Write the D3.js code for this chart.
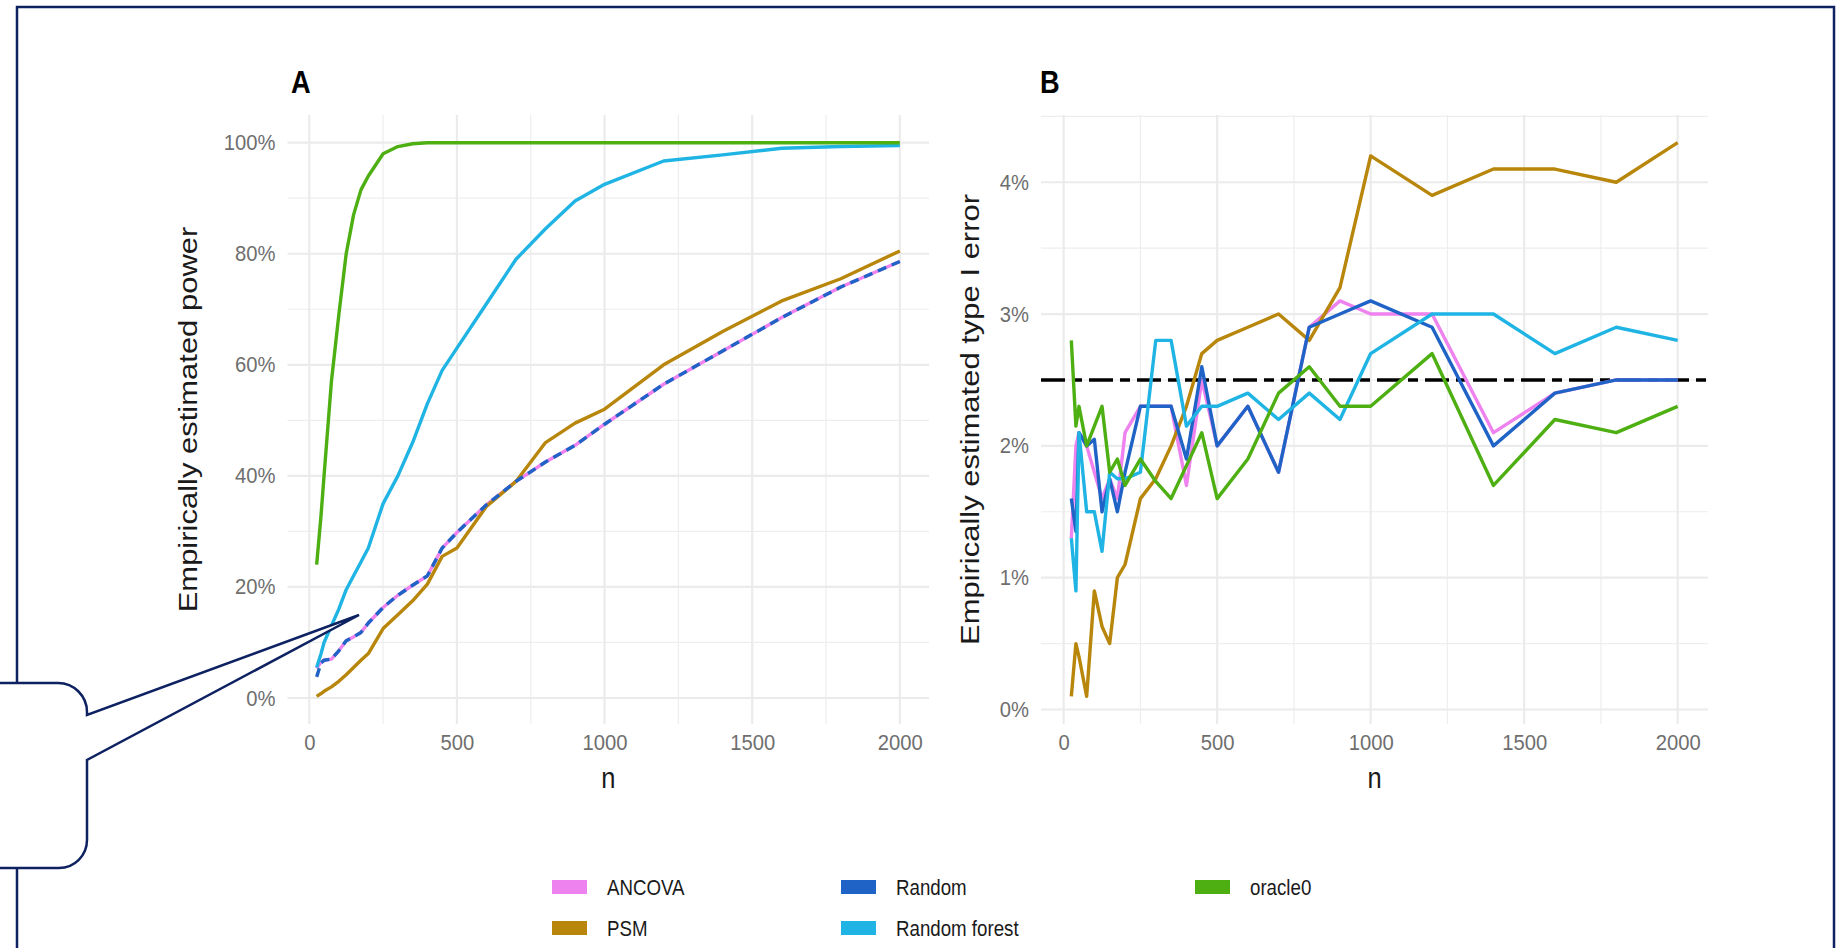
<!DOCTYPE html>
<html>
<head>
<meta charset="utf-8">
<script src="https://cdn.jsdelivr.net/npm/d3@7"></script>
<style>
	body { margin: 0; background: #fff; }
	svg text { font-family: "Liberation Sans", Arial, Helvetica, sans-serif; }
</style>
</head>
<body>
<svg id="chart" width="1842" height="948"></svg>
<script>
// sample sizes of the simulation
var nValues = [25, 40, 50, 75, 100, 125, 150, 175, 200, 250, 300, 350, 400, 450, 500, 600, 700, 800, 900, 1000, 1200, 1400, 1600, 1800, 2000];

var methods = ['ANCOVA', 'PSM', 'Random', 'Random forest', 'oracle0'];
var methodColors = ['#ee82ee', '#b8860b', '#1f63c6', '#1fb4e4', '#4daf12'];

// panel A: empirically estimated power (%)
var powerANCOVA = [5.3, 6.5, 6.8, 7, 8.5, 10.3, 11, 11.8, 13.5, 16.3, 18.5, 20.3, 22, 27, 29.8, 34.8, 39, 42.5, 45.5, 49.3, 56.5, 62.5, 68.5, 74, 78.6];
var powerPSM = [0.3, 0.8, 1.2, 2, 3, 4.2, 5.5, 6.8, 8, 12.5, 15, 17.5, 20.5, 25.5, 27, 34.5, 39, 46, 49.5, 52, 60, 66, 71.5, 75.5, 80.5];
var powerRandom = [3.8, 6.3, 6.8, 7, 8.5, 10.3, 11, 11.8, 13.5, 16.3, 18.5, 20.3, 22, 27, 29.8, 34.8, 39, 42.5, 45.5, 49.3, 56.5, 62.5, 68.5, 74, 78.6];
var powerRF = [5.5, 8, 10, 13, 16, 19.5, 22, 24.5, 27, 35, 40, 46, 53, 59, 63, 71, 79, 84.5, 89.5, 92.5, 96.7, 97.8, 99, 99.3, 99.5];
var powerOracle = [24, 33, 40, 57, 69, 80, 87, 91.5, 94, 98, 99.3, 99.8, 100, 100, 100, 100, 100, 100, 100, 100, 100, 100, 100, 100, 100];

// panel B: empirically estimated type I error (%)
var errANCOVA = [1.3, 2.0, 2.1, 2.0, 1.8, 1.6, 1.75, 1.6, 2.1, 2.3, 2.3, 2.3, 1.7, 2.5, 2.0, 2.3, 1.8, 2.9, 3.1, 3.0, 3.0, 2.1, 2.4, 2.5, 2.5];
var errPSM = [0.1, 0.5, 0.4, 0.1, 0.9, 0.63, 0.5, 1.0, 1.1, 1.6, 1.75, 2.0, 2.3, 2.7, 2.8, 2.9, 3.0, 2.8, 3.2, 4.2, 3.9, 4.1, 4.1, 4.0, 4.3];
var errRandom = [1.6, 1.35, 2.1, 2.0, 2.05, 1.5, 1.75, 1.5, 1.8, 2.3, 2.3, 2.3, 1.9, 2.6, 2.0, 2.3, 1.8, 2.9, 3.0, 3.1, 2.9, 2.0, 2.4, 2.5, 2.5];
var errRF = [1.3, 0.9, 2.1, 1.5, 1.5, 1.2, 1.8, 1.75, 1.75, 1.8, 2.8, 2.8, 2.15, 2.3, 2.3, 2.4, 2.2, 2.4, 2.2, 2.7, 3.0, 3.0, 2.7, 2.9, 2.8];
var errOracle = [2.8, 2.15, 2.3, 2.0, 2.15, 2.3, 1.8, 1.9, 1.7, 1.9, 1.73, 1.6, 1.85, 2.1, 1.6, 1.9, 2.4, 2.6, 2.3, 2.3, 2.7, 1.7, 2.2, 2.1, 2.3];

var alphaLevel = 2.5;

var xTicks = [0, 500, 1000, 1500, 2000];
var xMinorTicks = [250, 750, 1250, 1750];
var powerTicks = [0, 20, 40, 60, 80, 100];
var powerMinorTicks = [10, 30, 50, 70, 90];
var errTicks = [0, 1, 2, 3, 4];
var errMinorTicks = [0.5, 1.5, 2.5, 3.5, 4.5];

var svg = d3.select('#chart');
var sx = 0.85; // the text in the figure is a bit narrower than it is tall
var navy = '#0e2262';

function expand(ext) {
	var pad = (ext[1] - ext[0]) * 0.05;
	return [ext[0] - pad, ext[1] + pad];
}

function drawPanel(p) {
	var g = svg.append('g');
	var x = d3.scaleLinear().domain(expand(d3.extent(nValues))).range([p.left, p.right]);
	var allY = d3.merge(p.series);
	var y = d3.scaleLinear().domain(expand(d3.extent(allY))).range([p.bottom, p.top]);

	// grid
	g.selectAll('.xminor').data(xMinorTicks).enter().append('line')
		.attr('x1', function (d) { return x(d); })
		.attr('x2', function (d) { return x(d); })
		.attr('y1', p.top).attr('y2', p.bottom)
		.attr('stroke', '#eeeeee').attr('stroke-width', 1.2);
	g.selectAll('.yminor').data(p.minorTicks).enter().append('line')
		.attr('y1', function (d) { return y(d); })
		.attr('y2', function (d) { return y(d); })
		.attr('x1', p.left).attr('x2', p.right)
		.attr('stroke', '#eeeeee').attr('stroke-width', 1.2);
	g.selectAll('.xmajor').data(xTicks).enter().append('line')
		.attr('x1', function (d) { return x(d); })
		.attr('x2', function (d) { return x(d); })
		.attr('y1', p.top).attr('y2', p.bottom)
		.attr('stroke', '#ebebeb').attr('stroke-width', 2.2);
	g.selectAll('.ymajor').data(p.ticks).enter().append('line')
		.attr('y1', function (d) { return y(d); })
		.attr('y2', function (d) { return y(d); })
		.attr('x1', p.left).attr('x2', p.right)
		.attr('stroke', '#ebebeb').attr('stroke-width', 2.2);

	// axes, text only
	var yAxis = g.append('g')
		.attr('transform', 'translate(' + p.left + ',0)')
		.call(d3.axisLeft(y).tickValues(p.ticks).tickSize(0).tickPadding(13)
			.tickFormat(function (d) { return d + '%'; }));
	var xAxis = g.append('g')
		.attr('transform', 'translate(0,' + p.bottom + ')')
		.call(d3.axisBottom(x).tickValues(xTicks).tickSize(0).tickPadding(10)
			.tickFormat(d3.format('d')));
	[yAxis, xAxis].forEach(function (a) {
		a.select('.domain').remove();
		a.selectAll('text')
			.attr('fill', '#6e6e6e')
			.style('font-size', '22px')
			.attr('transform', 'scale(0.92,1)');
	});

	// reference line
	if (p.hline !== undefined) {
		g.append('line')
			.attr('x1', p.left).attr('x2', p.right)
			.attr('y1', y(p.hline)).attr('y2', y(p.hline))
			.attr('stroke', '#000').attr('stroke-width', 3.6)
			.attr('stroke-dasharray', '24,7,10,7');
	}

	var line = d3.line()
		.x(function (d) { return x(d[0]); })
		.y(function (d) { return y(d[1]); });

	p.series.forEach(function (vals, i) {
		g.append('path')
			.attr('d', line(nValues.map(function (n, j) { return [n, vals[j]]; })))
			.attr('fill', 'none')
			.attr('stroke', methodColors[i])
			.attr('stroke-width', 3.4)
			.attr('stroke-linejoin', 'round')
			.attr('stroke-dasharray', p.dashed && p.dashed[i] ? '9,6' : null);
	});

	// titles
	g.append('text')
		.attr('transform', 'translate(' + p.tagX + ',93) scale(' + sx + ',1)')
		.style('font-size', '32px').style('font-weight', 'bold')
		.text(p.tag);
	g.append('text')
		.attr('transform', 'translate(' + (p.left + p.right) / 2 + ',788) scale(' + sx + ',1)')
		.attr('text-anchor', 'middle')
		.style('font-size', '30px').attr('fill', '#1a1a1a')
		.text('n');
	g.append('text')
		.attr('transform', 'translate(' + p.titleX + ',' + (p.top + p.bottom) / 2 + ') scale(' + sx + ',1) rotate(-90)')
		.attr('text-anchor', 'middle')
		.attr('dy', '0.35em')
		.style('font-size', '31px').attr('fill', '#1a1a1a')
		.text(p.yTitle);
}

drawPanel({
	left: 287.5, right: 929, top: 115, bottom: 724,
	series: [powerANCOVA, powerPSM, powerRandom, powerRF, powerOracle],
	dashed: [false, false, true, false, false],
	ticks: powerTicks, minorTicks: powerMinorTicks,
	tag: 'A', tagX: 291, titleX: 188,
	yTitle: 'Empirically estimated power'
});

drawPanel({
	left: 1041, right: 1708, top: 115, bottom: 724,
	series: [errANCOVA, errPSM, errRandom, errRF, errOracle],
	ticks: errTicks, minorTicks: errMinorTicks,
	hline: alphaLevel,
	tag: 'B', tagX: 1040, titleX: 970,
	yTitle: 'Empirically estimated type I error'
});

// legend: 3 columns, filled by column
var legendCols = [552, 841, 1195];
var legendRows = [887, 928];
var legend = svg.append('g');
methods.forEach(function (m, i) {
	var cx = legendCols[Math.floor(i / 2)];
	var cy = legendRows[i % 2];
	legend.append('rect')
		.attr('x', cx).attr('y', cy - 7)
		.attr('width', 35).attr('height', 14)
		.attr('fill', methodColors[i]);
	legend.append('text')
		.attr('transform', 'translate(' + (cx + 55) + ',' + cy + ') scale(' + sx + ',1)')
		.attr('dy', '0.35em')
		.style('font-size', '22px').attr('fill', '#1a1a1a')
		.text(m);
});

// frame round the figure and the callout on the left
svg.append('rect')
	.attr('x', 17).attr('y', 7)
	.attr('width', 1834 - 17).attr('height', 1000)
	.attr('fill', 'none').attr('stroke', navy).attr('stroke-width', 2.5);

svg.append('path')
	.attr('d', 'M-5,683 H58 A29,29 0 0 1 87,712 V715 L359,615 L87,760 V840 A28,28 0 0 1 59,868 H-5 Z')
	.attr('fill', '#fff')
	.attr('stroke', navy)
	.attr('stroke-width', 2.5)
	.attr('stroke-linejoin', 'miter');
</script>
</body>
</html>
